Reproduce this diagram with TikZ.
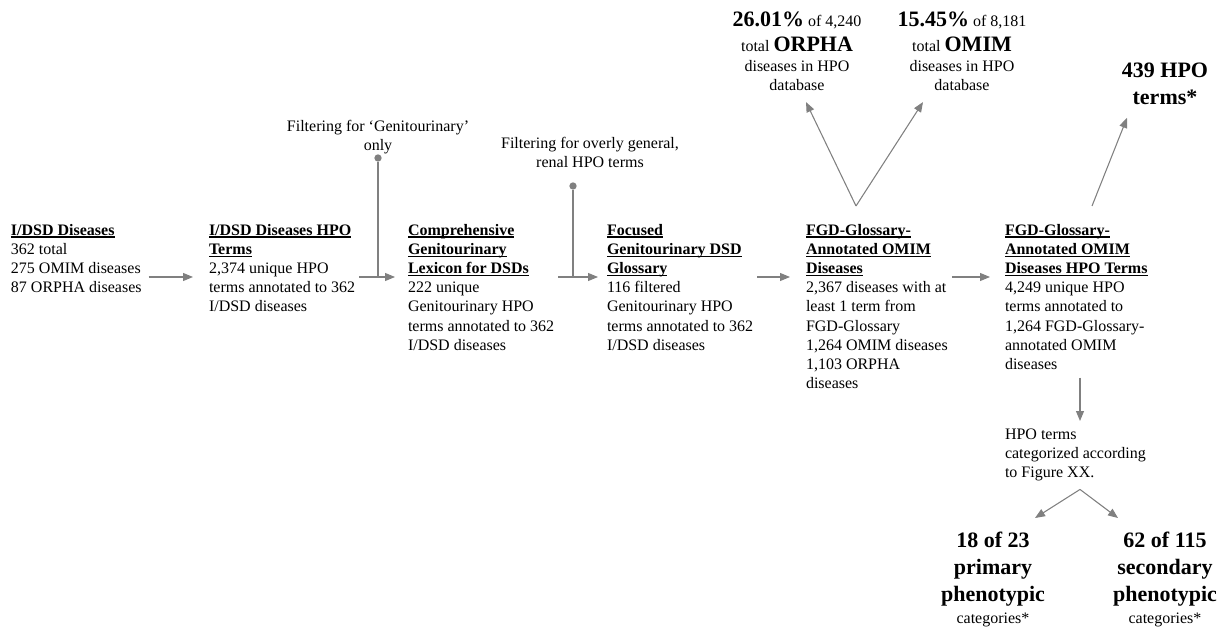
\documentclass[tikz,border=0pt]{standalone}
\usepackage{fontspec}
\setmainfont{Liberation Serif}
\usetikzlibrary{arrows.meta,calc}
\definecolor{linegray}{RGB}{128,128,128}
\newcommand{\ttl}[1]{\setbox0\hbox{\bfseries #1}\rlap{\rule[-1.8pt]{\wd0}{0.9pt}}\box0}
\newcommand{\bigb}[1]{{\fontsize{16.5}{20}\selectfont\bfseries #1}}
\begin{document}
\begin{tikzpicture}[x=0.75pt,y=-0.75pt,
  txt/.style={inner sep=0pt, outer sep=0pt, font=\fontsize{12}{14.4}\selectfont},
  box/.style={txt, anchor=north west, align=left},
  res/.style={inner sep=0pt, outer sep=0pt, anchor=north, align=center, font=\fontsize{16.5}{20.3}\selectfont\bfseries},
  arr/.style={draw=linegray, line width=0.8pt, -{Triangle[length=7.5pt,width=6pt]}},
  stem/.style={draw=linegray, line width=0.8pt},
  dotst/.style={circle, fill=linegray, inner sep=0pt, minimum size=5.5pt}
]
\useasboundingbox (0,0) rectangle (1225,627);

% main chain
\node[box] (n1) at (11,224) {\ttl{I/DSD Diseases}\\362 total\\275 OMIM diseases\\87 ORPHA diseases};
\node[box] (n2) at (209,224) {\ttl{I/DSD Diseases HPO}\\\ttl{Terms}\\2,374 unique HPO\\terms annotated to 362\\I/DSD diseases};
\node[box] (n3) at (408,224) {\ttl{Comprehensive}\\\ttl{Genitourinary}\\\ttl{Lexicon for DSDs}\\222 unique\\Genitourinary HPO\\terms annotated to 362\\I/DSD diseases};
\node[box] (n4) at (607,224) {\ttl{Focused}\\\ttl{Genitourinary DSD}\\\ttl{Glossary}\\116 filtered\\Genitourinary HPO\\terms annotated to 362\\I/DSD diseases};
\node[box] (n5) at (806,224) {\ttl{FGD-Glossary-}\\\ttl{Annotated OMIM}\\\ttl{Diseases}\\2,367 diseases with at\\least 1 term from\\FGD-Glossary\\1,264 OMIM diseases\\1,103 ORPHA\\diseases};
\node[box] (n6) at (1005,224) {\ttl{FGD-Glossary-}\\\ttl{Annotated OMIM}\\\ttl{Diseases HPO Terms}\\4,249 unique HPO\\terms annotated to\\1,264 FGD-Glossary-\\annotated OMIM\\diseases};

% filters
\node[txt, anchor=south, align=center] (f1) at (378,154) {Filtering for ‘Genitourinary’\\only};
\node[dotst] (d1) at (378,158) {};
\node[txt, anchor=south, align=center] (f2) at (590,168) {Filtering for overly general,\\renal HPO terms};
\node[dotst] (d2) at (573,186) {};

% top results
\node[txt, anchor=north, align=center] (t1) at (797,12) {\bigb{26.01\%} of 4,240\\[4pt]total \bigb{ORPHA}\\[1pt]diseases in HPO\\database};
\node[txt, anchor=north, align=center] (t2) at (962,12) {\bigb{15.45\%} of 8,181\\[4pt]total \bigb{OMIM}\\[1pt]diseases in HPO\\database};
\node[res] (t3) at (1165,63) {439 HPO\\terms*};

% categorization
\node[box] (cat) at (1005,429) {HPO terms\\categorized according\\to Figure XX.};
\node[res] (p1) at (993,532) {18 of 23\\primary\\phenotypic\\[-4pt]{\fontsize{12}{14}\mdseries\selectfont categories*}};
\node[res] (p2) at (1165,532) {62 of 115\\secondary\\phenotypic\\[-4pt]{\fontsize{12}{14}\mdseries\selectfont categories*}};

% connectors
\coordinate (row) at (0,277);
\draw[arr] ([xshift=5.25pt]n1.east |- row) -- ([xshift=-12pt]n2.west |- row);
\draw[arr] ([xshift=3pt]n2.east |- row) -- ([xshift=-9.75pt]n3.west |- row);
\draw[arr] ([xshift=3pt]n3.east |- row) -- ([xshift=-6.75pt]n4.west |- row);
\draw[arr] ([xshift=3pt]n4.east |- row) -- ([xshift=-12pt]n5.west |- row);
\draw[arr] ([xshift=3pt]n5.east |- row) -- ([xshift=-11.25pt]n6.west |- row);
\draw[stem] (d1) -- (d1 |- row);
\draw[stem] (d2) -- (d2 |- row);

\coordinate (n5top) at ($(n5.north west)+(50,-18)$);
\draw[arr] (n5top) -- ($(t1.south)+(9,11)$);
\draw[arr] (n5top) -- ($(t2.south)+(-39,11)$);
\draw[arr] ($(n6.north west)+(87,-18)$) -- ($(t3.south)+(-38,13)$);
\draw[arr] ($(n6.south west)+(75,8)$) -- ($(cat.north west)+(75,-8)$);
\coordinate (cattip) at ($(cat.south west)+(75,8)$);
\draw[arr] (cattip) -- ($(p1.north)+(42,-14)$);
\draw[arr] (cattip) -- ($(p2.north)+(-47,-14)$);
\end{tikzpicture}
\end{document}
